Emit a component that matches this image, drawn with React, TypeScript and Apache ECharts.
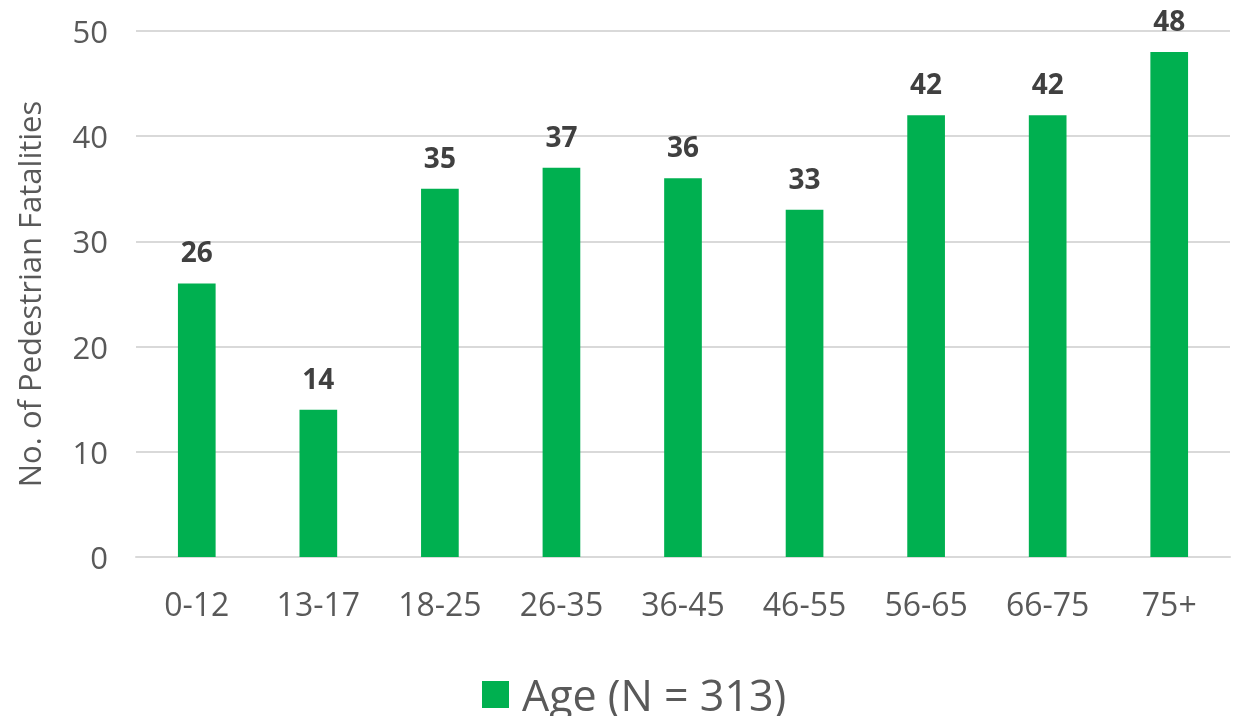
import React, { useEffect, useRef } from "react";
import * as echarts from "echarts";

const categories = ["0-12", "13-17", "18-25", "26-35", "36-45", "46-55", "56-65", "66-75", "75+"];
const values = [26, 14, 35, 37, 36, 33, 42, 42, 48];
const seriesName = "Age (N = 313)";
const yTitle = "No. of Pedestrian Fatalities";

const FONT = "'Open Sans', 'Noto Sans', sans-serif";

export default function App() {
  const ref = useRef<HTMLDivElement>(null);
  useEffect(() => {
    if (!ref.current) return;
    const chart = echarts.init(ref.current, undefined, { renderer: "svg" });
    chart.setOption({
      animation: false,
      textStyle: { fontFamily: FONT },
      grid: { left: 136, right: 4, top: 31, bottom: 159, containLabel: false },
      legend: {
        top: 668,
        left: 477,
        itemWidth: 27,
        itemHeight: 27,
        itemGap: 10,
        icon: "rect",
        textStyle: { fontSize: 43, lineHeight: 42, color: "#595959", fontFamily: FONT, padding: [0, 0, 0, 8] },
        data: [seriesName],
      },
      xAxis: {
        type: "category",
        data: categories,
        axisLine: { lineStyle: { color: "#d9d9d9", width: 2 } },
        axisTick: { show: false },
        axisLabel: { fontSize: 32, color: "#595959", margin: 30, fontFamily: FONT },
      },
      yAxis: {
        type: "value",
        min: 0,
        max: 50,
        interval: 10,
        name: yTitle,
        nameLocation: "middle",
        nameGap: 92,
        nameTextStyle: { fontSize: 31, color: "#595959", fontFamily: FONT },
        axisLine: { show: false },
        axisTick: { show: false },
        splitLine: { lineStyle: { color: "#d9d9d9", width: 2 } },
        axisLabel: { fontSize: 31, color: "#595959", margin: 28, fontFamily: FONT },
      },
      series: [
        {
          name: seriesName,
          type: "bar",
          data: values,
          barWidth: "31%",
          itemStyle: { color: "#00B050" },
          label: {
            show: true,
            position: "top",
            distance: 18,
            fontSize: 28,
            fontWeight: "bold",
            color: "#404040",
            fontFamily: FONT,
          },
        },
      ],
    });
    return () => chart.dispose();
  }, []);
  return <div ref={ref} style={{ position: "fixed", left: 0, top: 0, width: 1234, height: 716 }} />;
}
